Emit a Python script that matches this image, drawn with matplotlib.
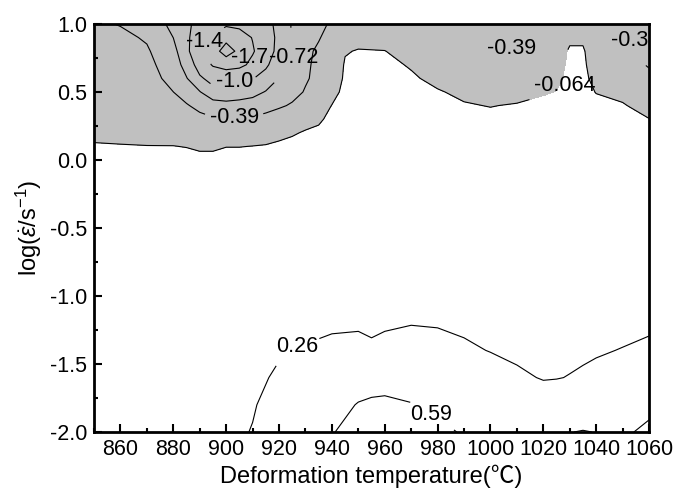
import matplotlib
matplotlib.use("Agg")
import matplotlib.pyplot as plt
import numpy as np

plt.rcParams['font.family'] = ['Liberation Sans', 'Noto Sans CJK SC', 'DejaVu Sans']
plt.rcParams['mathtext.fontset'] = 'custom'
plt.rcParams['mathtext.rm'] = 'Liberation Sans'
plt.rcParams['mathtext.it'] = 'Liberation Sans:italic'

# instability parameter xi, upper part of the map (log strain rate 0 .. 1)
temp_top = [850, 860, 870, 875, 880, 885, 890, 895, 900, 905, 910, 915, 920, 925, 930, 935,
            940, 945, 950, 960, 970, 980, 990, 1000, 1010, 1020, 1025, 1030, 1035, 1040, 1050, 1060]
rate_top = [0.0, 0.1, 0.2, 0.3, 0.4, 0.5, 0.6, 0.7, 0.8, 0.9, 1.0]
# one entry per temperature, values listed from log rate 0.0 up to 1.0
xi_top_cols = [
    [0.00, -0.05, -0.10, -0.14, -0.17, -0.20, -0.23, -0.26, -0.29, -0.32, -0.36],
    [0.00, -0.055, -0.11, -0.15, -0.19, -0.22, -0.25, -0.28, -0.31, -0.35, -0.40],
    [0.00, -0.06, -0.12, -0.17, -0.21, -0.25, -0.29, -0.33, -0.37, -0.41, -0.47],
    [0.00, -0.06, -0.13, -0.18, -0.23, -0.29, -0.38, -0.42, -0.45, -0.52, -0.62],
    [0.00, -0.06, -0.14, -0.20, -0.28, -0.39, -0.47, -0.54, -0.61, -0.72, -0.85],
    [0.00, -0.07, -0.16, -0.26, -0.37, -0.50, -0.70, -0.85, -0.98, -0.97, -0.95],
    [0.00, -0.10, -0.20, -0.32, -0.46, -0.70, -1.00, -1.18, -1.28, -1.28, -1.20],
    [0.00, -0.10, -0.22, -0.36, -0.55, -0.95, -1.15, -1.40, -1.55, -1.42, -1.25],
    [0.03, -0.07, -0.20, -0.36, -0.62, -0.92, -1.18, -1.48, -1.85, -1.60, -1.32],
    [0.03, -0.07, -0.20, -0.36, -0.60, -0.88, -1.13, -1.45, -1.62, -1.50, -1.30],
    [0.02, -0.06, -0.19, -0.35, -0.57, -0.82, -1.06, -1.30, -1.40, -1.36, -1.25],
    [0.02, -0.05, -0.16, -0.30, -0.50, -0.70, -0.92, -1.10, -1.20, -1.18, -1.12],
    [0.02, -0.04, -0.10, -0.24, -0.43, -0.58, -0.71, -0.85, -0.95, -0.98, -0.98],
    [0.02, -0.02, -0.08, -0.16, -0.36, -0.48, -0.56, -0.62, -0.66, -0.68, -0.69],
    [0.02, -0.01, -0.05, -0.12, -0.22, -0.37, -0.42, -0.42, -0.42, -0.45, -0.48],
    [0.02, 0.00, -0.03, -0.09, -0.15, -0.25, -0.32, -0.35, -0.37, -0.40, -0.43],
    [0.02, 0.02, 0.00, -0.02, -0.06, -0.12, -0.20, -0.26, -0.30, -0.34, -0.37],
    [0.02, 0.02, 0.01, 0.00, -0.01, -0.02, -0.03, -0.04, -0.08, -0.22, -0.30],
    [0.02, 0.02, 0.02, 0.01, 0.01, 0.00, 0.00, -0.02, -0.05, -0.14, -0.22],
    [0.02, 0.02, 0.02, 0.01, 0.01, 0.00, 0.00, -0.02, -0.06, -0.14, -0.22],
    [0.02, 0.02, 0.01, 0.01, 0.00, -0.01, -0.04, -0.08, -0.14, -0.20, -0.25],
    [0.02, 0.01, 0.01, 0.00, -0.02, -0.05, -0.11, -0.16, -0.21, -0.25, -0.28],
    [0.02, 0.01, 0.00, -0.02, -0.05, -0.10, -0.15, -0.20, -0.25, -0.28, -0.30],
    [0.02, 0.01, 0.00, -0.02, -0.07, -0.13, -0.20, -0.27, -0.33, -0.33, -0.32],
    [0.02, 0.01, 0.00, -0.01, -0.05, -0.13, -0.25, -0.41, -0.35, -0.31, -0.30],
    [0.02, 0.01, 0.00, 0.00, -0.02, -0.08, -0.15, -0.22, -0.28, -0.31, -0.33],
    [0.02, 0.01, 0.00, 0.00, -0.01, -0.06, -0.10, -0.13, -0.16, -0.22, -0.28],
    [0.02, 0.01, 0.01, 0.00, 0.00, -0.01, -0.02, -0.03, -0.04, -0.10, -0.25],
    [0.02, 0.01, 0.01, 0.00, 0.00, -0.01, -0.02, -0.03, -0.04, -0.10, -0.22],
    [0.02, 0.01, 0.00, 0.00, -0.02, -0.07, -0.12, -0.16, -0.20, -0.25, -0.30],
    [0.02, 0.01, 0.00, -0.01, -0.05, -0.11, -0.17, -0.23, -0.28, -0.33, -0.38],
    [0.02, 0.00, -0.02, -0.06, -0.13, -0.20, -0.30, -0.42, -0.50, -0.56, -0.60],
]

# lower part of the map (log strain rate -2 .. 0), one row per log rate
temp_bot = [850, 860, 870, 880, 890, 900, 905, 910, 920, 930, 940, 950, 955, 960, 970,
            980, 990, 1000, 1010, 1020, 1025, 1030, 1035, 1040, 1050, 1060]
rate_bot = [-2.0, -1.8, -1.6, -1.4, -1.2, -1.0, -0.5, 0.0]
xi_bot = [
    [0.05, 0.08, 0.11, 0.14, 0.18, 0.22, 0.245, 0.27, 0.36, 0.45, 0.58, 0.66, 0.69, 0.70, 0.68,
     0.63, 0.575, 0.53, 0.50, 0.52, 0.56, 0.585, 0.60, 0.585, 0.56, 0.63],
    [0.04, 0.07, 0.10, 0.13, 0.17, 0.21, 0.235, 0.25, 0.33, 0.41, 0.52, 0.60, 0.62, 0.63, 0.60,
     0.55, 0.50, 0.46, 0.42, 0.38, 0.40, 0.42, 0.44, 0.45, 0.47, 0.54],
    [0.03, 0.05, 0.08, 0.11, 0.14, 0.18, 0.21, 0.22, 0.29, 0.36, 0.44, 0.50, 0.51, 0.51, 0.48,
     0.45, 0.40, 0.37, 0.30, 0.25, 0.255, 0.27, 0.29, 0.31, 0.35, 0.41],
    [0.02, 0.04, 0.06, 0.09, 0.12, 0.15, 0.17, 0.19, 0.245, 0.28, 0.33, 0.34, 0.30, 0.34, 0.36,
     0.35, 0.30, 0.255, 0.22, 0.20, 0.21, 0.22, 0.23, 0.245, 0.27, 0.30],
    [0.02, 0.03, 0.05, 0.07, 0.09, 0.12, 0.13, 0.15, 0.20, 0.21, 0.22, 0.23, 0.22, 0.23, 0.255,
     0.245, 0.22, 0.20, 0.18, 0.17, 0.18, 0.19, 0.19, 0.20, 0.21, 0.23],
    [0.02, 0.03, 0.04, 0.05, 0.07, 0.09, 0.10, 0.11, 0.15, 0.16, 0.16, 0.17, 0.17, 0.17, 0.19,
     0.19, 0.18, 0.17, 0.16, 0.15, 0.16, 0.16, 0.16, 0.17, 0.18, 0.19],
    [0.02, 0.02, 0.03, 0.03, 0.04, 0.05, 0.05, 0.06, 0.07, 0.08, 0.08, 0.09, 0.09, 0.09, 0.10,
     0.10, 0.10, 0.10, 0.10, 0.10, 0.10, 0.10, 0.10, 0.10, 0.11, 0.11],
    [0.02] * 26,
]

level_min = [-1.699]
levels_neg = [-1.372, -1.045, -0.718, -0.391, -0.064]
levels_pos = [0.263, 0.590]
level_text = {-1.699: '-1.7', -1.372: '-1.4', -1.045: '-1.0', -0.718: '-0.72',
              -0.391: '-0.39', -0.064: '-0.064', 0.263: '0.26', 0.590: '0.59'}

# contour point that each label breaks, and where its text is drawn
label_at_neg = [(892, 0.87), (902.6, 0.57), (922.5, 0.76), (903, 0.32),
                (1009, 0.72), (1053, 0.88), (1027, 0.55)]
text_at_neg = [(892, 0.875), (903.3, 0.574), (925.5, 0.757), (903, 0.31),
               (1007.8, 0.82), (1055, 0.88), (1028, 0.55)]
label_at_pos = [(926, -1.38), (978, -1.88)]
text_at_pos = [(927, -1.375), (977.5, -1.875)]
# the innermost ring keeps its line; its label sits beside it
label_at_min = (902, 0.80)
text_at_min = (909, 0.757)

xi_top = np.array(xi_top_cols).T
xi_bot = np.array(xi_bot)

fig = plt.figure(figsize=(6.73, 4.97), dpi=100)
ax = fig.add_axes([0.1397, 0.1308, 0.8247, 0.8209])

# unstable domain in grey
ax.contourf(temp_top, rate_top, xi_top, levels=[-10, -0.064], colors=['#c0c0c0'])

line_kw = dict(colors='black', linewidths=0.8, linestyles='solid')
cs_min = ax.contour(temp_top, rate_top, xi_top, levels=level_min, **line_kw)
cs_neg = ax.contour(temp_top, rate_top, xi_top, levels=levels_neg, **line_kw)
cs_pos = ax.contour(temp_bot, rate_bot, xi_bot, levels=levels_pos, **line_kw)

lab_neg = list(ax.clabel(cs_neg, fmt=level_text, manual=label_at_neg, inline=True, fontsize=15.5))
for t, xy in zip(lab_neg, text_at_neg):
    t.set_position(xy)
lab_min = list(ax.clabel(cs_min, fmt=level_text, manual=[label_at_min], inline=False, fontsize=15.5))
lab_min[0].set_position(text_at_min)
lab_pos = list(ax.clabel(cs_pos, fmt=level_text, manual=label_at_pos, inline=True, fontsize=15.5))
for t, xy in zip(lab_pos, text_at_pos):
    t.set_position(xy)

for t in lab_neg + lab_min + lab_pos:
    t.set_rotation(0)
    t.set_clip_on(True)

ax.set_xlim(850, 1060)
ax.set_ylim(-2.0, 1.0)
ax.set_xticks(np.arange(860, 1061, 20))
ax.set_xticks(np.arange(850, 1061, 10), minor=True)
ax.set_yticks(np.arange(-2.0, 1.01, 0.5))
ax.set_yticks(np.arange(-2.0, 1.01, 0.25), minor=True)
ax.yaxis.set_major_formatter(matplotlib.ticker.FormatStrFormatter('%.1f'))
ax.tick_params(which='both', direction='in', labelsize=15.5, width=1.5)
ax.tick_params(which='major', length=6, pad=5)
ax.tick_params(which='minor', length=3)
for sp in ax.spines.values():
    sp.set_linewidth(2.0)

ax.set_xlabel('Deformation temperature(℃)', fontsize=17, labelpad=3)
ax.set_ylabel(r'log($\dot{\varepsilon}$/s$^{-1}$)', fontsize=17, labelpad=4)

fig.savefig('out.png', dpi=100)
